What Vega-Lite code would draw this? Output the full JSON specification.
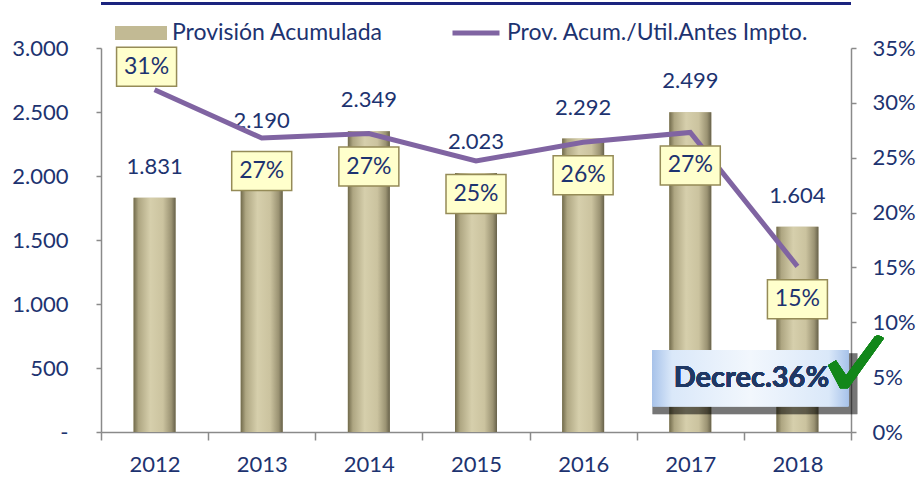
{
  "$schema": "https://vega.github.io/schema/vega-lite/v6.json",
  "width": 750,
  "height": 384,
  "autosize": {"type": "none"},
  "padding": {"left": 101, "top": 48, "right": 71, "bottom": 47},
  "background": "white",
  "config": {
    "view": {"stroke": null},
    "locale": {"number": {"decimal": ",", "thousands": ".", "grouping": [3], "currency": ["", ""]}},
    "font": "Lato",
    "axis": {"labelFont": "Lato", "labelFontSize": 22, "labelColor": "#1d3370", "domainColor": "#8a8a8a", "tickColor": "#8a8a8a", "domainWidth": 1.5, "tickWidth": 1.5, "grid": false},
    "legend": {"labelFont": "Lato", "labelFontSize": 23, "labelColor": "#1d3370", "padding": 0, "labelLimit": 0}
  },
  "data": {"values": [
    {"year": "2012", "prov": 1831, "ratio": 0.312},
    {"year": "2013", "prov": 2190, "ratio": 0.268},
    {"year": "2014", "prov": 2349, "ratio": 0.272},
    {"year": "2015", "prov": 2023, "ratio": 0.247},
    {"year": "2016", "prov": 2292, "ratio": 0.264},
    {"year": "2017", "prov": 2499, "ratio": 0.273},
    {"year": "2018", "prov": 1604, "ratio": 0.151}
  ]},
  "resolve": {"scale": {"y": "independent"}},
  "layer": [
    {
      "layer": [
        {
          "mark": {"type": "rule", "color": "#1a237e", "strokeWidth": 2.5, "clip": false},
          "encoding": {"y": {"datum": 3350}}
        },
        {
          "mark": {"type": "bar", "width": 42},
          "encoding": {
            "x": {"field": "year", "type": "nominal", "title": null, "scale": {"paddingInner": 0, "paddingOuter": 0},
                  "axis": {"labelAngle": 0, "tickBand": "extent", "tickSize": 8, "labelPadding": 14, "domainColor": "#8a8a8a"}},
            "y": {"field": "prov", "type": "quantitative", "title": null, "scale": {"domain": [0, 3000], "nice": false},
                  "axis": {"values": [0, 500, 1000, 1500, 2000, 2500, 3000], "labelExpr": "datum.value == 0 ? '-' : format(datum.value, ',')", "tickSize": 5, "labelPadding": 28}},
            "fill": {"datum": "Provisión Acumulada", "scale": {"range": ["#c2ba94"]},
                     "legend": {"orient": "none", "legendX": 14, "legendY": -41, "title": null,
                                "symbolType": "M-1,-0.27L1,-0.27L1,0.27L-1,0.27Z", "symbolSize": 2704, "symbolStrokeWidth": 0, "labelOffset": 5}}
          }
        },
        {
          "mark": {"type": "bar", "width": 42, "color": {"gradient": "linear", "x1": 0, "y1": 0, "x2": 1, "y2": 0, "stops": [
            {"offset": 0, "color": "#716a4b"}, {"offset": 0.12, "color": "#aea682"}, {"offset": 0.4, "color": "#d6cfac"},
            {"offset": 0.7, "color": "#cbc39f"}, {"offset": 0.9, "color": "#9b9373"}, {"offset": 1, "color": "#67614a"}]}},
          "encoding": {
            "x": {"field": "year", "type": "nominal", "title": null},
            "y": {"field": "prov", "type": "quantitative", "title": null}
          }
        },
        {
          "mark": {"type": "text", "baseline": "bottom", "dy": -19, "fontSize": 22, "color": "#1d3370", "font": "Lato"},
          "encoding": {
            "x": {"field": "year", "type": "nominal", "title": null},
            "y": {"field": "prov", "type": "quantitative", "title": null},
            "text": {"field": "prov", "type": "quantitative", "format": ","}
          }
        },
        {
          "mark": {"type": "point", "filled": true, "shape": "M-2.9,-0.5L1.2,-0.5L1.2,0.72L-2.9,0.72Z", "size": 10000, "color": "#000000", "opacity": 0.1},
          "encoding": {"x": {"datum": "2018"}, "y": {"datum": 420}}
        },
        {
          "mark": {"type": "point", "filled": true, "shape": "M-2.9,-0.56L1.02,-0.56L1.02,0.56L-2.9,0.56Z", "size": 10000, "opacity": 1,
                   "color": {"gradient": "linear", "x1": 0, "y1": 0, "x2": 1, "y2": 0, "stops": [
                     {"offset": 0, "color": "#a8c3ea"}, {"offset": 0.1, "color": "#dae8f9"}, {"offset": 0.5, "color": "#f2f7fd"},
                     {"offset": 0.9, "color": "#dae8f9"}, {"offset": 1, "color": "#a8c3ea"}]}},
          "encoding": {"x": {"datum": "2018"}, "y": {"datum": 420}}
        },
        {
          "mark": {"type": "text", "text": "Decrec.36%", "fontSize": 29, "fontWeight": "bold", "color": "#1f3864", "dx": -46, "baseline": "middle", "font": "Lato"},
          "encoding": {"x": {"datum": "2018"}, "y": {"datum": 420}}
        },
        {
          "mark": {"type": "point", "filled": true, "shape": "M1.11,-0.47L1.4,-0.65L1.77,-0.11L2.82,-1.53Q3,-1.6 3.15,-1.45L1.84,0.36L1.55,0.36Z", "size": 3025, "color": "#12871a", "opacity": 1},
          "encoding": {"x": {"datum": "2018"}, "y": {"datum": 420}}
        }
      ]
    },
    {
      "layer": [
        {
          "mark": {"type": "line", "strokeWidth": 5},
          "encoding": {
            "x": {"field": "year", "type": "nominal", "title": null},
            "y": {"field": "ratio", "type": "quantitative", "title": null, "scale": {"domain": [0, 0.35], "nice": false},
                  "axis": {"orient": "right", "values": [0, 0.05, 0.1, 0.15, 0.2, 0.25, 0.3, 0.35], "format": ".0%", "tickSize": 5, "labelPadding": 16}},
            "stroke": {"datum": "Prov. Acum./Util.Antes Impto.", "scale": {"range": ["#8064a2"]},
                       "legend": {"orient": "none", "legendX": 349, "legendY": -41, "title": null, "symbolType": "stroke", "symbolSize": 2209, "symbolStrokeWidth": 5, "labelOffset": 5}}
          }
        },
        {
          "transform": [{"filter": "datum.year == '2012'"}],
          "mark": {"type": "point", "filled": false, "shape": "M-1.267,-1.417L0.733,-1.417L0.733,-0.117L-1.267,-0.117Z", "size": 3600, "fill": "#ffffcc", "fillOpacity": 1, "stroke": "#958b57", "strokeWidth": 1.5, "opacity": 1},
          "encoding": {
            "x": {"field": "year", "type": "nominal", "title": null},
            "y": {"field": "ratio", "type": "quantitative", "title": null}
          }
        },
        {
          "transform": [{"filter": "datum.year != '2012'"}],
          "mark": {"type": "point", "filled": false, "shape": "M-1,0.45L1,0.45L1,1.75L-1,1.75Z", "size": 3600, "fill": "#ffffcc", "fillOpacity": 1, "stroke": "#958b57", "strokeWidth": 1.5, "opacity": 1},
          "encoding": {
            "x": {"field": "year", "type": "nominal", "title": null},
            "y": {"field": "ratio", "type": "quantitative", "title": null}
          }
        },
        {
          "transform": [{"filter": "datum.year == '2012'"}],
          "mark": {"type": "text", "fontSize": 23, "color": "#1d3370", "dx": -8, "dy": -23, "baseline": "middle", "font": "Lato"},
          "encoding": {
            "x": {"field": "year", "type": "nominal", "title": null},
            "y": {"field": "ratio", "type": "quantitative", "title": null},
            "text": {"field": "ratio", "type": "quantitative", "format": ".0%"}
          }
        },
        {
          "transform": [{"filter": "datum.year != '2012'"}],
          "mark": {"type": "text", "fontSize": 23, "color": "#1d3370", "dy": 33, "baseline": "middle", "font": "Lato"},
          "encoding": {
            "x": {"field": "year", "type": "nominal", "title": null},
            "y": {"field": "ratio", "type": "quantitative", "title": null},
            "text": {"field": "ratio", "type": "quantitative", "format": ".0%"}
          }
        }
      ]
    }
  ]
}
